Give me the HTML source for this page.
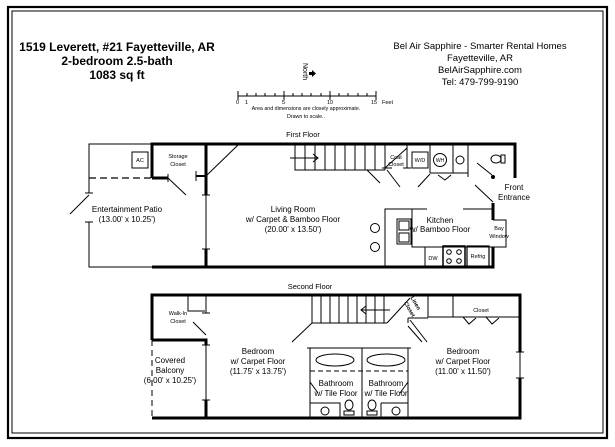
<!DOCTYPE html>
<html><head><meta charset="utf-8"><style>
html,body{margin:0;padding:0;background:#fff}
svg{display:block}
text{font-family:"Liberation Sans",Arial,sans-serif;fill:#000}
</style></head><body>
<svg width="615" height="447" viewBox="0 0 615 447" xmlns="http://www.w3.org/2000/svg">
<rect x="0" y="0" width="615" height="447" fill="#fff"/>
<rect x="8" y="7" width="599" height="431" fill="none" stroke="#000" stroke-width="2.2"/>
<rect x="12" y="11" width="591" height="422" fill="none" stroke="#000" stroke-width="1"/>

<g font-weight="bold" font-size="12" text-anchor="middle">
<text x="117" y="51">1519 Leverett, #21 Fayetteville, AR</text>
<text x="117" y="65">2-bedroom 2.5-bath</text>
<text x="117" y="79">1083 sq ft</text>
</g>
<g font-size="9.5" text-anchor="middle">
<text x="480" y="49">Bel Air Sapphire - Smarter Rental Homes</text>
<text x="480" y="61">Fayetteville, AR</text>
<text x="480" y="73">BelAirSapphire.com</text>
<text x="480" y="85">Tel: 479-799-9190</text>
</g>
<text x="0" y="0" font-size="7" transform="translate(303,63) rotate(90)">North</text>
<path d="M309 72 h3 v-2 l4 3.5 l-4 3.5 v-2 h-3z" fill="#000"/>
<g stroke="#000" stroke-width="1">
<line x1="238" y1="96" x2="376" y2="96"/>
<line x1="238" y1="91" x2="238" y2="100"/>
<line x1="284" y1="91" x2="284" y2="100"/>
<line x1="330" y1="91" x2="330" y2="100"/>
<line x1="376" y1="91" x2="376" y2="100"/>
<path d="M247 93v3M256 93v3M265 93v3M275 93v3M293 93v3M302 93v3M311 93v3M321 93v3M339 93v3M348 93v3M358 93v3M367 93v3"/>
</g>
<g font-size="5.5">
<text x="236" y="104">0</text><text x="245" y="104">1</text><text x="282" y="104">5</text>
<text x="327" y="104">10</text><text x="371" y="104">15</text><text x="382" y="104">Feet</text>
</g>
<g font-size="5.3" text-anchor="middle">
<text x="306" y="110">Area and dimensions are closely approximate.</text>
<text x="306" y="118">Drawn to scale..</text>
</g>

<text x="303" y="137" font-size="7.5" text-anchor="middle">First Floor</text>
<g stroke="#000" fill="none">
 <path d="M152 144H89V193M89 222V267H152" stroke-width="1"/>
 <path d="M85 193h8M85 222h8" stroke-width="1"/>
 <line x1="70" y1="214" x2="89" y2="195" stroke-width="1"/>
 <line x1="89" y1="178" x2="152" y2="178" stroke-width="1.2" stroke-dasharray="7,4"/>
 <path d="M152 178V144H515V178" stroke-width="3"/>
 <path d="M152 178H168" stroke-width="3"/>
 <path d="M168 174v8" stroke-width="1"/>
 <line x1="168" y1="178" x2="186" y2="195" stroke-width="1"/>
 <path d="M206 144V195M206 249V267" stroke-width="3"/>
 <path d="M206 195V249" stroke-width="1"/>
 <path d="M202 195h8M202 249h8" stroke-width="1"/>
 <path d="M196 176H206" stroke-width="2"/><path d="M196 171v10" stroke-width="1"/>
 <line x1="206" y1="176" x2="238" y2="145" stroke-width="1"/>
 <path d="M152 267H493V247" stroke-width="3"/>
 <path d="M493 220V203" stroke-width="3"/>
 <line x1="475" y1="185" x2="493" y2="202" stroke-width="1"/>
 <path d="M493 220H506V247H493" stroke-width="1"/>
 <circle cx="493" cy="177" r="1.5" fill="#000"/>
 <rect x="132" y="152" width="16" height="16" stroke-width="1"/>
 <path d="M295 144V170H385" stroke-width="1"/>
 <path d="M305 144v26M315 144v26M325 144v26M335 144v26M345 144v26M355 144v26M365 144v26M375 144v26M385 144v26" stroke-width="1"/>
 <path d="M290 158H318M313 154l5 4l-5 4" stroke-width="1"/>
 <path d="M407 144V168M430 144V173M453 144V173M468 144V173M430 173H468" stroke-width="1"/>
 <path d="M382 168h10M403 168h8M468 169v8" stroke-width="1"/>
 <line x1="385" y1="168" x2="407" y2="148" stroke-width="1"/>
 <rect x="412" y="152" width="16" height="16" stroke-width="1"/>
 <circle cx="440" cy="160" r="6.5" stroke-width="1"/>
 <circle cx="460" cy="160" r="4" stroke-width="1"/>
 <ellipse cx="496" cy="159" rx="5" ry="4" stroke-width="1"/>
 <rect x="501" y="155" width="4" height="8" stroke-width="1"/>
 <path d="M367 170L380 183M387 170L400 187M418 187L430 174M438 175L445 180L451 175M477 163L492 175" stroke-width="1"/>
 <path d="M385 267V209H427M463 209H493" stroke-width="1"/>
 <path d="M412 209V247H506" stroke-width="1"/>
 <rect x="397" y="219" width="14" height="25" stroke-width="1"/>
 <rect x="399" y="221" width="10" height="9" stroke-width="1"/>
 <rect x="399" y="233" width="10" height="9" stroke-width="1"/>
 <circle cx="375" cy="228" r="4.5" stroke-width="1"/>
 <circle cx="375" cy="247" r="4.5" stroke-width="1"/>
 <path d="M425 247V267" stroke-width="1"/>
 <rect x="443" y="246" width="22" height="21" stroke-width="1.5"/>
 <circle cx="449" cy="252" r="2.3" stroke-width="1"/><circle cx="459" cy="252" r="2.3" stroke-width="1"/>
 <circle cx="449" cy="261" r="2.3" stroke-width="1"/><circle cx="459" cy="261" r="2.3" stroke-width="1"/>
 <rect x="467" y="246" width="22" height="21" stroke-width="1.2"/>
</g>
<g font-size="5.5" text-anchor="middle">
 <text x="140" y="162">AC</text>
 <text x="178" y="158">Storage</text><text x="178" y="166">Closet</text>
 <text x="396" y="159">Coat</text><text x="396" y="166">Closet</text>
 <text x="420" y="162">W/D</text>
 <text x="440" y="162" font-size="5">WH</text>
 <text x="499" y="230">Bay</text><text x="499" y="238">Window</text>
 <text x="433" y="260">DW</text>
 <text x="478" y="258">Refrig</text>
</g>
<g font-size="8" text-anchor="middle">
 <text x="127" y="212">Entertainment Patio</text>
 <text x="127" y="222">(13.00' x 10.25')</text>
 <text x="293" y="212">Living Room</text>
 <text x="293" y="222">w/ Carpet &amp; Bamboo Floor</text>
 <text x="293" y="232">(20.00' x 13.50')</text>
 <text x="440" y="223">Kitchen</text>
 <text x="440" y="232">w/ Bamboo Floor</text>
 <text x="514" y="190">Front</text>
 <text x="514" y="200">Entrance</text>
</g>

<text x="310" y="289" font-size="7.5" text-anchor="middle">Second Floor</text>
<g stroke="#000" fill="none">
 <path d="M152 340V295H520V352M520 378V418H152" stroke-width="3"/>
 <path d="M152 340H206V345M206 400V418" stroke-width="3"/>
 <path d="M206 345V400M520 352V378" stroke-width="1"/>
 <path d="M202 345h8M202 400h8M516 352h8M516 378h8" stroke-width="1"/>
 <line x1="152" y1="340" x2="152" y2="418" stroke-width="1" stroke-dasharray="6,4"/>
 <path d="M188 295V311H205M206 295V313M202 313h8" stroke-width="1"/>
 <line x1="193" y1="322" x2="206" y2="335" stroke-width="1"/>
 <path d="M312 295V323H387" stroke-width="1"/>
 <path d="M321 295v28M330 295v28M339 295v28M348 295v28M357 295v28M366 295v28M375 295v28M384 295v28" stroke-width="1"/>
 <path d="M390 310H361M366 306l-5 4l5 4" stroke-width="1"/>
 <line x1="387" y1="323" x2="410" y2="298" stroke-width="1"/>
 <path d="M408 318V323M408 318H428M428 295V317H520M453 295V317" stroke-width="1"/>
 <path d="M292 342L312 323M410 320L427 342M408 326L422 342" stroke-width="1"/>
 <path d="M463 317l6 7l7-6M486 317l6 7l7-6" stroke-width="1"/>
 <path d="M310 348V418M408 348V418M362 348V418M310 348H408" stroke-width="1"/>
 <path d="M307 348h6M405 348h6" stroke-width="1"/>
 <line x1="310" y1="371" x2="408" y2="371" stroke-width="1" stroke-dasharray="5,3"/>
 <ellipse cx="335" cy="360" rx="19" ry="6" stroke-width="1"/>
 <ellipse cx="386" cy="360" rx="19" ry="6" stroke-width="1"/>
 <path d="M310 403H340V418M381 403H408M381 403V418" stroke-width="1"/>
 <circle cx="325" cy="411" r="4" stroke-width="1"/>
 <circle cx="396" cy="411" r="4" stroke-width="1"/>
 <ellipse cx="349" cy="405" rx="4" ry="5" stroke-width="1"/>
 <rect x="344" y="411" width="10" height="4" stroke-width="1"/>
 <ellipse cx="372" cy="405" rx="4" ry="5" stroke-width="1"/>
 <rect x="367" y="411" width="10" height="4" stroke-width="1"/>
 <path d="M310 382L318 393M408 382L400 393" stroke-width="1"/>
</g>
<g font-size="5.5" text-anchor="middle">
 <text x="178" y="315">Walk-In</text><text x="178" y="323">Closet</text>
 <text x="481" y="312">Closet</text>
 <text x="0" y="0" transform="translate(414,304) rotate(60)" font-weight="bold">Linen</text>
 <text x="0" y="0" transform="translate(408,310) rotate(60)" font-weight="bold">Closet</text>
</g>
<g font-size="8" text-anchor="middle">
 <text x="258" y="354">Bedroom</text>
 <text x="258" y="364">w/ Carpet Floor</text>
 <text x="258" y="374">(11.75' x 13.75')</text>
 <text x="463" y="354">Bedroom</text>
 <text x="463" y="364">w/ Carpet Floor</text>
 <text x="463" y="374">(11.00' x 11.50')</text>
 <text x="170" y="363">Covered</text>
 <text x="170" y="373">Balcony</text>
 <text x="170" y="383">(6.00' x 10.25')</text>
 <text x="336" y="386">Bathroom</text>
 <text x="336" y="396">w/ Tile Floor</text>
 <text x="386" y="386">Bathroom</text>
 <text x="386" y="396">w/ Tile Floor</text>
</g>
</svg>
</body></html>
